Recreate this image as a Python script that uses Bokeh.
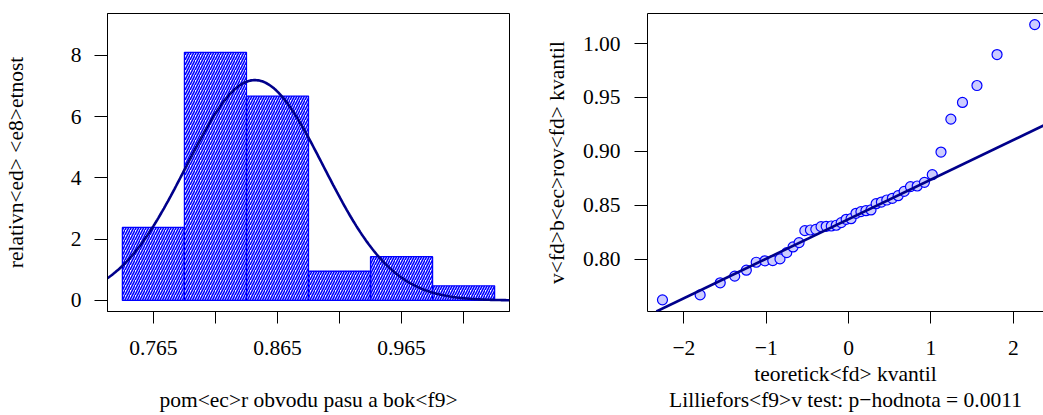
from statistics import NormalDist

import numpy as np
from bokeh.embed import file_html
from bokeh.layouts import row
from bokeh.models import FixedTicker, LinearAxis, Range1d, Slope
from bokeh.plotting import figure
from bokeh.resources import INLINE

# waist-to-hip ratio, sorted sample (n = 42)
ratio = [
    0.7623, 0.7669, 0.7781, 0.7843, 0.7898,
    0.7972, 0.7985, 0.7987, 0.8003, 0.8061, 0.8114, 0.8154, 0.8265, 0.8271,
    0.8277, 0.8302, 0.8305, 0.8308, 0.8315, 0.8339, 0.8370, 0.8376,
    0.8426, 0.8441, 0.8450, 0.8457, 0.8515, 0.8530, 0.8549, 0.8565, 0.8589,
    0.8629, 0.8673, 0.8679, 0.8713, 0.8784,
    0.8994, 0.9299,
    0.9454, 0.9611, 0.9898,
    1.0176,
]
bin_edges = [0.74, 0.79, 0.84, 0.89, 0.94, 0.99, 1.04]

hist_xticks = [0.765, 0.815, 0.865, 0.915, 0.965, 1.015]
hist_xlabels = ["0.765", "", "0.865", "", "0.965", ""]
hist_yticks = [0, 2, 4, 6, 8]
hist_ylabels = ["0", "2", "4", "6", "8"]

qq_xticks = [-2, -1, 0, 1, 2]
qq_xlabels = ["\u22122", "\u22121", "0", "1", "2"]
qq_yticks = [0.80, 0.85, 0.90, 0.95, 1.00]
qq_ylabels = ["0.80", "0.85", "0.90", "0.95", "1.00"]

hist_xlabel = "pom<ec>r obvodu pasu a bok<f9>"
hist_ylabel = "relativn<ed> <e8>etnost"
qq_xlabel = "teoretick<fd> kvantil"
qq_note = "Lilliefors<f9>v test: p\u2212hodnota = 0.0011"
qq_ylabel = "v<fd>b<ec>rov<fd> kvantil"

FONT = "Liberation Serif"
FSIZE = "21.5px"
NAVY = "#00008B"

data = np.array(ratio)
n = len(data)
edges = np.array(bin_edges)
# right-closed bins (a, b]
idx = np.searchsorted(edges, data, side="left") - 1
idx = np.clip(idx, 0, len(edges) - 2)
counts = np.bincount(idx, minlength=len(edges) - 1)
width = edges[1:] - edges[:-1]
density = counts / (n * width)

mu = data.mean()
sd = data.std(ddof=1)

# normal quantiles and quartile reference line
probs = (np.arange(1, n + 1) - 0.5) / n
nd = NormalDist()
theo = np.array([nd.inv_cdf(p) for p in probs])
q1, q3 = np.quantile(data, [0.25, 0.75])
z1, z3 = nd.inv_cdf(0.25), nd.inv_cdf(0.75)
slope = (q3 - q1) / (z3 - z1)
intercept = q1 - slope * z1


def style_axis(ax):
    ax.axis_line_color = "black"
    ax.axis_line_width = 1
    ax.major_tick_line_color = "black"
    ax.major_tick_line_width = 1
    ax.major_tick_in = 0
    ax.minor_tick_line_color = None
    ax.major_label_text_font = FONT
    ax.major_label_text_font_size = FSIZE
    ax.major_label_text_color = "black"
    ax.axis_label_text_font = FONT
    ax.axis_label_text_font_size = FSIZE
    ax.axis_label_text_font_style = "normal"
    ax.axis_label_text_color = "black"


def style_plot(p):
    p.xgrid.visible = False
    p.ygrid.visible = False
    p.background_fill_color = "white"
    p.border_fill_color = "white"


# ---- histogram with fitted normal density ----
x_lo, x_hi = 0.7280, 1.0520
p1 = figure(
    width=520, height=415,
    x_range=Range1d(x_lo, x_hi), y_range=Range1d(-0.36, 9.36),
    output_backend="svg", toolbar_location=None,
    min_border_left=107, min_border_right=11,
    min_border_top=13, min_border_bottom=103,
)
p1.outline_line_color = "black"
p1.outline_line_width = 1
p1.outline_line_alpha = 1

p1.quad(
    left=edges[:-1], right=edges[1:], bottom=0, top=density,
    fill_color=None, line_color="#0000FF", line_width=1.3,
    hatch_pattern="/", hatch_color="#0000FF", hatch_scale=5, hatch_weight=1.6,
)
xs = np.linspace(x_lo, x_hi, 300)
dens = np.exp(-0.5 * ((xs - mu) / sd) ** 2) / (sd * np.sqrt(2 * np.pi))
p1.line(xs, dens, line_color=NAVY, line_width=2.6)

style_plot(p1)
xa1 = p1.below[0]
ya1 = p1.left[0]
style_axis(xa1)
style_axis(ya1)
xa1.ticker = FixedTicker(ticks=hist_xticks)
xa1.major_label_overrides = dict(zip(hist_xticks, hist_xlabels))
xa1.major_tick_out = 12
xa1.major_label_standoff = 17
xa1.axis_label = hist_xlabel
xa1.axis_label_standoff = 30
ya1.ticker = FixedTicker(ticks=hist_yticks)
ya1.major_label_overrides = dict(zip(hist_yticks, hist_ylabels))
ya1.major_tick_out = 13
ya1.major_label_standoff = 13
ya1.axis_label = hist_ylabel
ya1.axis_label_standoff = 40

# ---- normal Q-Q plot ----
qx_lo = -2.442
qx_hi = qx_lo + 396 / 82.35
p2 = figure(
    width=523, height=415,
    x_range=Range1d(qx_lo, qx_hi), y_range=Range1d(0.7515, 1.0279),
    output_backend="svg", toolbar_location=None,
    min_border_left=127, min_border_right=0,
    min_border_top=13, min_border_bottom=103,
)
p2.outline_line_color = None

p2.add_layout(Slope(gradient=slope, y_intercept=intercept,
                    line_color=NAVY, line_width=2.6))
p2.scatter(theo, data, size=10, fill_color="#CCCCFF", line_color="#0000FF",
           line_width=1.2)

style_plot(p2)
xa2 = p2.below[0]
ya2 = p2.left[0]
style_axis(xa2)
style_axis(ya2)
xa2.ticker = FixedTicker(ticks=qq_xticks)
xa2.major_label_overrides = dict(zip(qq_xticks, qq_xlabels))
xa2.major_tick_out = 12
xa2.major_label_standoff = 17
xa2.axis_label = qq_xlabel + "\n" + qq_note
xa2.axis_label_standoff = 4
xa2.axis_label_text_line_height = 1.12
ya2.ticker = FixedTicker(ticks=qq_yticks)
ya2.major_label_overrides = dict(zip(qq_yticks, qq_ylabels))
ya2.major_tick_out = 13
ya2.major_label_standoff = 14
ya2.axis_label = qq_ylabel
ya2.axis_label_standoff = 11

# closing line along the top of the Q-Q frame
top_axis = LinearAxis(ticker=FixedTicker(ticks=[]), major_tick_out=0,
                      major_tick_in=0, major_label_text_font_size="0px",
                      axis_line_color="black", axis_line_width=1,
                      minor_tick_line_color=None)
p2.add_layout(top_axis, "above")

layout = row(p1, p2, spacing=0)
open("out.html", "w").write(file_html(layout, INLINE))
